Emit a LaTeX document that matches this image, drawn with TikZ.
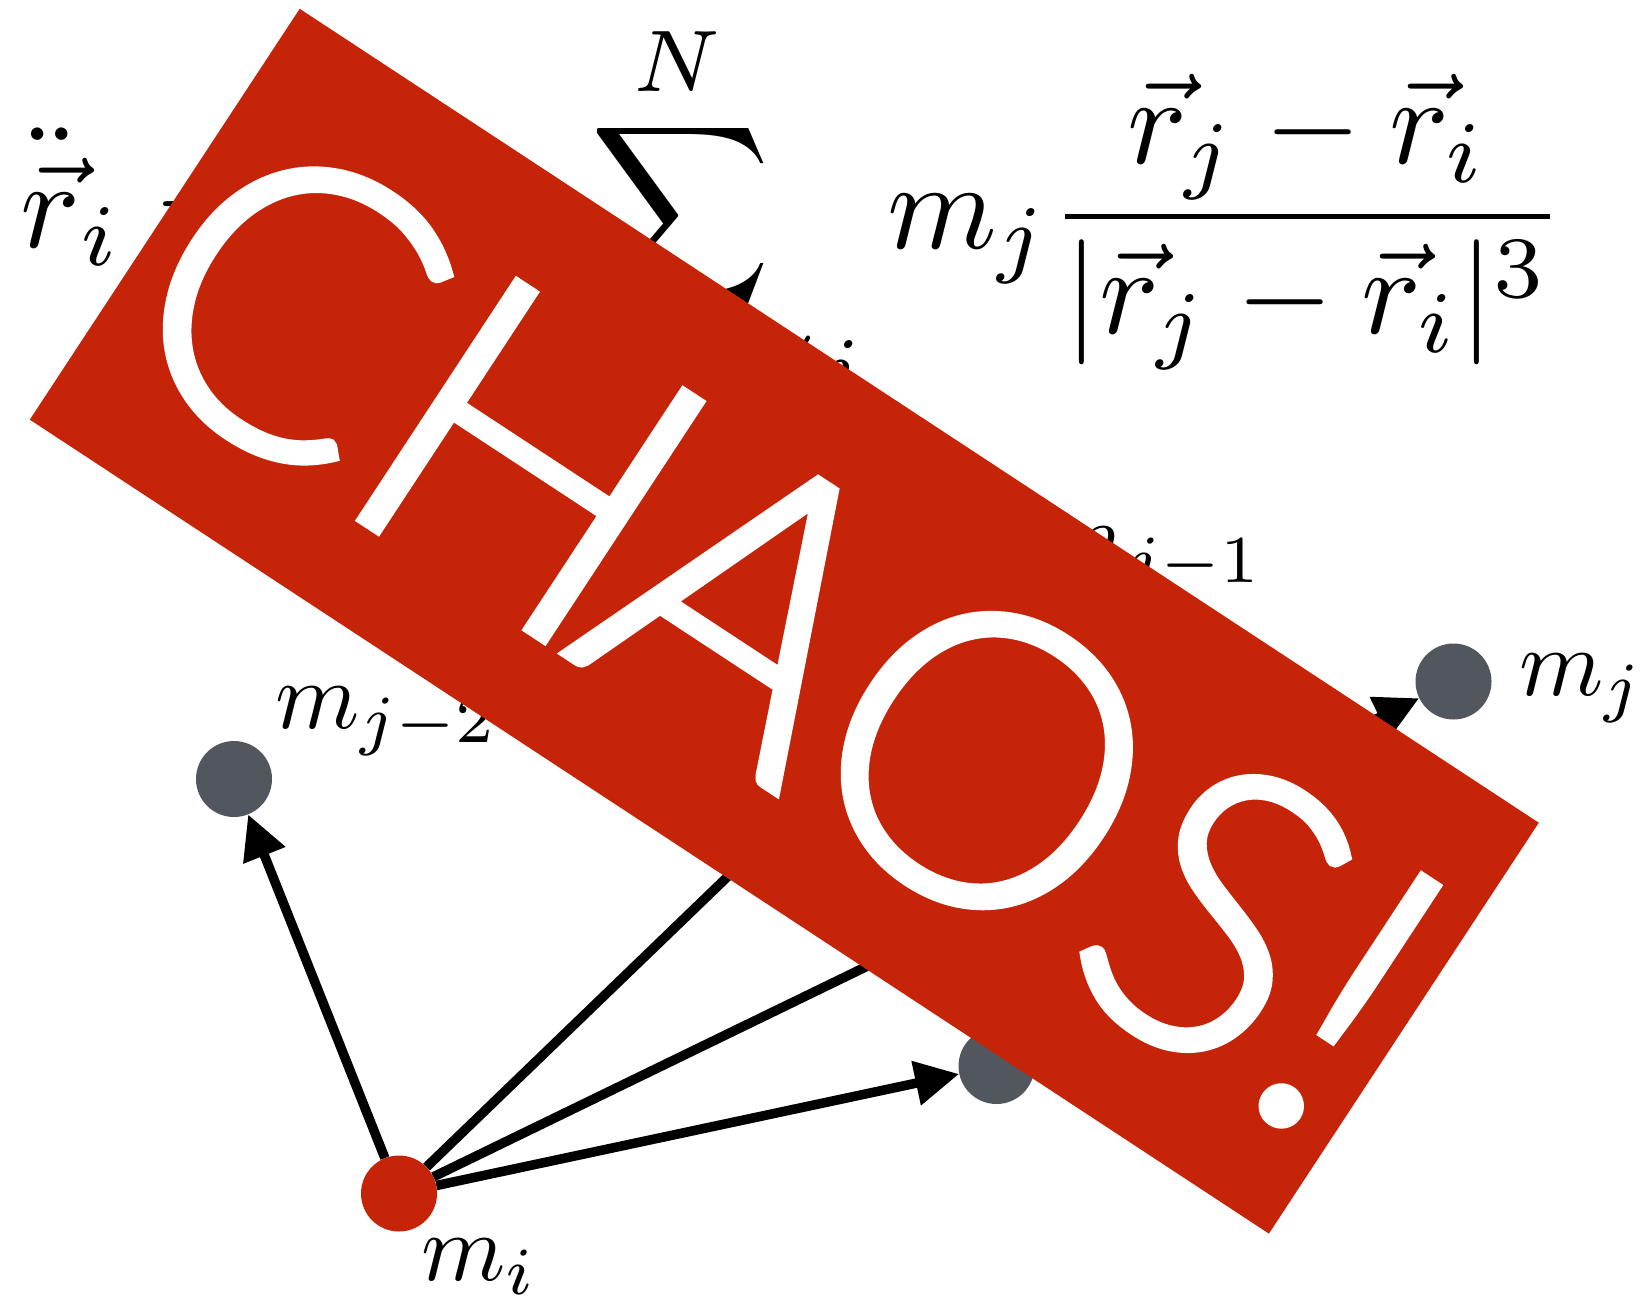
\documentclass[tikz,border=0pt]{standalone}
\usepackage{fontspec}
\newfontfamily\chaosfont[FakeBold=2]{Lato Light}
\usetikzlibrary{arrows.meta}
\definecolor{chaosred}{RGB}{198,36,8}
\definecolor{massgray}{RGB}{82,87,94}
\begin{document}
\begin{tikzpicture}[x=1pt,y=-1pt,
  mass/.style={circle,fill=massgray,minimum size=76pt,inner sep=0pt},
  pull/.style={line width=9.5pt,-{Triangle[length=44pt,width=43pt]}},
  big/.style={inner sep=0pt},
  lbl/.style={inner sep=0pt,anchor=base west}]
\fill[white] (0,0) rectangle (1643,1298);
\useasboundingbox (0,0) rectangle (1643,1298);

% formula
\node[big,anchor=base west] (lhs) at (20,247) {\scalebox{12.5}{$\ddot{\vec{r}}_i =$}};
\node[big,anchor=base west] (sigma) at (590,247) {\scalebox{12.5}{$\displaystyle\sum$}};
\node[big,anchor=base] (upper) at (677,92) {\scalebox{12.5}{$\scriptstyle N$}};
\node[big,anchor=base east] (lower) at (860,398) {\scalebox{12.5}{$\scriptstyle j=1,\ j\neq i$}};
\node[big,anchor=base west] (rhs) at (887,248) {\scalebox{12.5}{$\displaystyle m_j\frac{\vec{r}_j-\vec{r}_i}{|\vec{r}_j-\vec{r}_i|^3}$}};

% masses
\node[mass,fill=chaosred] (mi) at (399,1193.5) {};
\node[mass] (mj2) at (234,779) {};
\node[mass] (mj1) at (999,615) {};
\node[mass] (mj) at (1453.5,681.5) {};
\node[mass] (mk) at (996.5,1066) {};

\node[lbl] (lmj2) at (275,728) {\scalebox{9.6}{$m_{j-2}$}};
\node[lbl] (lmj1) at (1040,568) {\scalebox{9.6}{$m_{j-1}$}};
\node[lbl] (lmj) at (1519,695) {\scalebox{9.6}{$m_j$}};
\node[lbl] (lmi) at (421,1280) {\scalebox{9.6}{$m_i$}};

% pulls
\draw[pull] (mi) -- (mj2);
\draw[pull] (mi) -- (mj1);
\draw[pull] (mi) -- (mj);
\draw[pull] (mi) -- (mk);

% banner
\node[fill=chaosred,rotate=-33.3,minimum width=1482.6pt,minimum height=491.6pt,inner sep=0pt] (banner) at (784.3,621.2) {};
\node[rotate=-33.3,text=white,inner sep=0pt] (chaos) at (785,628) {\chaosfont\scalebox{40.3}{CH\kern-0.6ptAO\kern0.25ptS!}};
\end{tikzpicture}
\end{document}
